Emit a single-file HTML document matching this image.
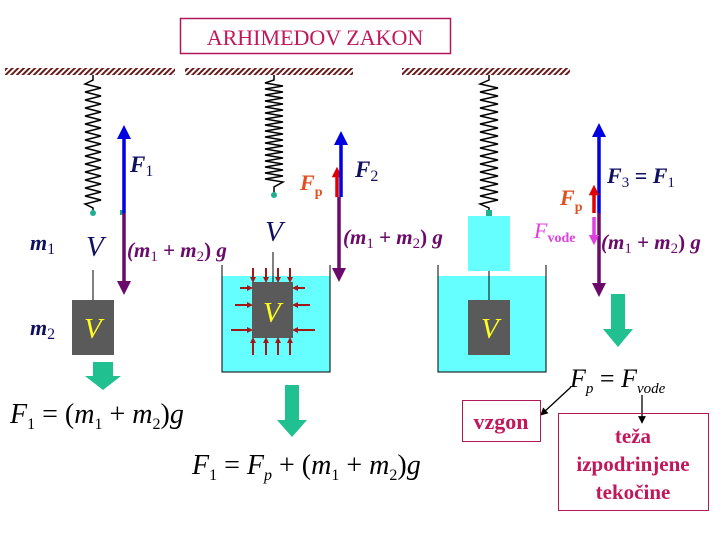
<!DOCTYPE html>
<html><head><meta charset="utf-8"><style>
html,body{margin:0;padding:0;background:#fff;}
svg{display:block;}
.t{font-family:"Liberation Serif",serif;}
</style></head><body>
<svg width="720" height="540" viewBox="0 0 720 540" xmlns="http://www.w3.org/2000/svg">
<defs>
<pattern id="h" width="4" height="4" patternUnits="userSpaceOnUse" patternTransform="rotate(45)">
<rect width="4" height="4" fill="#fff"/><rect width="2" height="4" fill="#6a1a1a"/></pattern>
<marker id="ab" markerWidth="4" markerHeight="4" refX="2" refY="2" orient="auto"><path d="M0,0L4,2L0,4z" fill="#0000e0"/></marker>
<marker id="ap" markerWidth="4" markerHeight="4" refX="2" refY="2" orient="auto"><path d="M0,0L4,2L0,4z" fill="#6a0a6a"/></marker>
<marker id="ar" markerWidth="3" markerHeight="3" refX="1.5" refY="1.5" orient="auto"><path d="M0,0L3,1.5L0,3z" fill="#e00000"/></marker>
<marker id="am" markerWidth="3" markerHeight="3" refX="1.5" refY="1.5" orient="auto"><path d="M0,0L3,1.5L0,3z" fill="#e040e0"/></marker>
<marker id="ad" markerWidth="3" markerHeight="3" refX="1.5" refY="1.5" orient="auto"><path d="M0,0L3,1.5L0,3z" fill="#a01818"/></marker>
<marker id="ak" markerWidth="6" markerHeight="6" refX="3" refY="3" orient="auto"><path d="M0,0L6,3L0,6z" fill="#000"/></marker>
</defs>

<rect x="180.5" y="18.5" width="270" height="35" fill="#fff" stroke="#b0185a" stroke-width="1.5"/>
<text x="315" y="45" class="t" font-size="22" fill="#c0185a" text-anchor="middle">ARHIMEDOV ZAKON</text>

<rect x="5" y="68" width="170" height="7" fill="url(#h)"/>
<rect x="185" y="68" width="168" height="7" fill="url(#h)"/>
<rect x="402" y="68" width="168" height="7" fill="url(#h)"/>

<g fill="none" stroke="#000" stroke-width="1.5">
<polyline points="93,75 93,80 85,84 101,88 85,92 101,96 85,100 101,104 85,108 101,112 85,116 101,120 85,124 101,128 85,132 101,136 85,140 101,144 85,148 101,152 85,156 101,160 85,164 101,168 85,172 101,176 85,180 101,184 85,188 101,192 85,196 101,200 85,204 93,208 93,213"/>
<polyline points="274,75 274,80 265,83 283,86 265,89 283,92 265,95 283,98 265,101 283,104 265,107 283,110 265,113 283,116 265,119 283,122 265,125 283,128 265,131 283,134 265,137 283,140 265,143 283,146 265,149 283,152 265,155 283,158 265,161 283,164 265,167 283,170 265,173 283,176 265,179 283,182 274,187 274,195"/>
<polyline points="489,75 489,80 480,84 498,88 480,92 498,96 480,100 498,104 480,108 498,112 480,116 498,120 480,124 498,128 480,132 498,136 480,140 498,144 480,148 498,152 480,156 498,160 480,164 498,168 480,172 498,176 480,180 498,184 480,188 498,192 480,196 498,200 480,204 489,208 489,213"/>
</g>
<circle cx="93" cy="213" r="3" fill="#20b090"/>
<rect x="120" y="210" width="5" height="5" fill="#20a090"/>
<circle cx="274" cy="195" r="3" fill="#20b090"/>
<rect x="486" y="210" width="6" height="6" fill="#20b090"/>

<text x="30" y="250" class="t" font-size="22" font-style="italic" font-weight="bold" fill="#101060">m<tspan font-size="16" font-style="normal" font-weight="normal" dy="4">1</tspan></text>
<text x="30" y="335" class="t" font-size="22" font-style="italic" font-weight="bold" fill="#101060">m<tspan font-size="16" font-style="normal" font-weight="normal" dy="4">2</tspan></text>
<text x="86" y="256" class="t" font-size="29" font-style="italic" fill="#101060">V</text>
<line x1="93" y1="270" x2="93" y2="300" stroke="#000"/>
<rect x="72" y="300" width="42" height="55" fill="#5a5a5a"/>
<text x="84" y="338" class="t" font-size="29" font-style="italic" fill="#ffff20">V</text>
<line x1="124" y1="213" x2="124" y2="132" stroke="#0000e0" stroke-width="3.5" marker-end="url(#ab)"/>
<line x1="124" y1="213" x2="124" y2="288" stroke="#6a0a6a" stroke-width="3.5" marker-end="url(#ap)"/>
<text x="130" y="172" class="t" font-size="23" font-style="italic" font-weight="bold" fill="#101060">F<tspan font-size="16" font-style="normal" font-weight="normal" dy="4">1</tspan></text>
<text x="127" y="257" class="t" font-size="21" font-style="italic" font-weight="bold" fill="#6a0a6a">(m<tspan font-size="15" font-style="normal" font-weight="normal" dy="4">1</tspan><tspan dy="-4" font-style="normal"> + </tspan>m<tspan font-size="15" font-style="normal" font-weight="normal" dy="4">2</tspan><tspan dy="-4" font-style="normal">) </tspan>g</text>
<path d="M93,362 H113 V376 H121 L103,390 L85,376 H93 Z" fill="#20c090"/>
<text x="10" y="423" class="t" font-size="28" font-style="italic" fill="#000">F<tspan font-size="16" font-style="normal" dy="6">1</tspan><tspan dy="-6" font-style="normal"> = (</tspan>m<tspan font-size="16" font-style="normal" dy="6">1</tspan><tspan dy="-6" font-style="normal"> + </tspan>m<tspan font-size="16" font-style="normal" dy="6">2</tspan><tspan dy="-6" font-style="normal">)</tspan>g</text>

<text x="265" y="241" class="t" font-size="29" font-style="italic" fill="#101060">V</text>
<rect x="222" y="276" width="108" height="96" fill="#66ffff"/>
<polyline points="222,265 222,372 330,372 330,265" fill="none" stroke="#000"/>
<line x1="273" y1="252" x2="273" y2="282" stroke="#000"/>
<rect x="252" y="282" width="41" height="56" fill="#5a5a5a"/>
<text x="263" y="322" class="t" font-size="29" font-style="italic" fill="#ffff20">V</text>
<g stroke="#a01818" stroke-width="2" marker-end="url(#ad)">
<line x1="253" y1="268" x2="253" y2="280"/><line x1="266" y1="268" x2="266" y2="280"/><line x1="278" y1="268" x2="278" y2="280"/><line x1="290" y1="268" x2="290" y2="280"/>
<line x1="253" y1="355" x2="253" y2="340"/><line x1="266" y1="355" x2="266" y2="340"/><line x1="278" y1="355" x2="278" y2="340"/><line x1="290" y1="355" x2="290" y2="340"/>
<line x1="240" y1="288" x2="250" y2="288"/><line x1="235" y1="305" x2="250" y2="305"/><line x1="231" y1="330" x2="250" y2="330"/>
<line x1="305" y1="288" x2="295" y2="288"/><line x1="310" y1="305" x2="295" y2="305"/><line x1="315" y1="330" x2="295" y2="330"/>
</g>
<line x1="337" y1="197" x2="337" y2="172" stroke="#e00000" stroke-width="3.5" marker-end="url(#ar)"/>
<line x1="341" y1="197" x2="341" y2="138" stroke="#0000e0" stroke-width="3.5" marker-end="url(#ab)"/>
<line x1="339" y1="197" x2="339" y2="275" stroke="#6a0a6a" stroke-width="3.5" marker-end="url(#ap)"/>
<text x="300" y="190" class="t" font-size="22" font-style="italic" font-weight="bold" fill="#e05020">F<tspan font-size="14" font-style="normal" dy="6">p</tspan></text>
<text x="355" y="177" class="t" font-size="23" font-style="italic" font-weight="bold" fill="#101060">F<tspan font-size="16" font-style="normal" font-weight="normal" dy="4">2</tspan></text>
<text x="343" y="244" class="t" font-size="21" font-style="italic" font-weight="bold" fill="#6a0a6a">(m<tspan font-size="15" font-style="normal" font-weight="normal" dy="4">1</tspan><tspan dy="-4" font-style="normal"> + </tspan>m<tspan font-size="15" font-style="normal" font-weight="normal" dy="4">2</tspan><tspan dy="-4" font-style="normal">) </tspan>g</text>
<path d="M285,385 H299 V420 H307 L292,437 L277,420 H285 Z" fill="#20c090"/>
<text x="192" y="474" class="t" font-size="28" font-style="italic" fill="#000">F<tspan font-size="16" font-style="normal" dy="6">1</tspan><tspan dy="-6" font-style="normal"> = </tspan>F<tspan font-size="16" dy="6">p</tspan><tspan dy="-6" font-style="normal"> + (</tspan>m<tspan font-size="16" font-style="normal" dy="6">1</tspan><tspan dy="-6" font-style="normal"> + </tspan>m<tspan font-size="16" font-style="normal" dy="6">2</tspan><tspan dy="-6" font-style="normal">)</tspan>g</text>

<rect x="468" y="216" width="42" height="55" fill="#66ffff"/>
<rect x="438" y="276" width="108" height="96" fill="#66ffff"/>
<polyline points="438,265 438,372 546,372 546,265" fill="none" stroke="#000"/>
<line x1="489" y1="271" x2="489" y2="300" stroke="#000"/>
<rect x="468" y="300" width="42" height="55" fill="#5a5a5a"/>
<text x="481" y="338" class="t" font-size="29" font-style="italic" fill="#ffff20">V</text>

<line x1="599" y1="213" x2="599" y2="130" stroke="#0000e0" stroke-width="3.5" marker-end="url(#ab)"/>
<line x1="599" y1="213" x2="599" y2="290" stroke="#6a0a6a" stroke-width="3.5" marker-end="url(#ap)"/>
<line x1="594" y1="213" x2="594" y2="190" stroke="#e00000" stroke-width="3.5" marker-end="url(#ar)"/>
<line x1="594" y1="217" x2="594" y2="240" stroke="#e040e0" stroke-width="3.5" marker-end="url(#am)"/>
<text x="607" y="183" class="t" font-size="22" font-style="italic" font-weight="bold" fill="#101060">F<tspan font-size="15" font-style="normal" font-weight="normal" dy="4">3</tspan><tspan dy="-4" font-style="normal"> = </tspan>F<tspan font-size="15" font-style="normal" font-weight="normal" dy="4">1</tspan></text>
<text x="560" y="205" class="t" font-size="22" font-style="italic" font-weight="bold" fill="#e05020">F<tspan font-size="14" font-style="normal" dy="6">p</tspan></text>
<text x="534" y="238" class="t" font-size="22" font-style="italic" fill="#e040e0">F<tspan font-size="14" font-style="normal" font-weight="bold" dy="4">vode</tspan></text>
<text x="601" y="249" class="t" font-size="21" font-style="italic" font-weight="bold" fill="#6a0a6a">(m<tspan font-size="15" font-style="normal" font-weight="normal" dy="4">1</tspan><tspan dy="-4" font-style="normal"> + </tspan>m<tspan font-size="15" font-style="normal" font-weight="normal" dy="4">2</tspan><tspan dy="-4" font-style="normal">) </tspan>g</text>
<path d="M611,294 H625 V329 H633 L618,347 L603,329 H611 Z" fill="#20c090"/>

<text x="570" y="387" class="t" font-size="26" font-style="italic" fill="#000">F<tspan font-size="15" dy="6">p</tspan><tspan dy="-6" font-style="normal"> = </tspan>F<tspan font-size="15" dy="6">vode</tspan></text>
<line x1="571" y1="387" x2="543" y2="413" stroke="#000" stroke-width="1.3" marker-end="url(#ak)"/>
<line x1="642" y1="395" x2="642" y2="420" stroke="#000" stroke-width="1.3" marker-end="url(#ak)"/>
<rect x="462.5" y="400.5" width="78" height="41" fill="none" stroke="#b0185a"/>
<text x="501" y="429" class="t" font-size="22" font-weight="bold" fill="#c0185a" text-anchor="middle">vzgon</text>
<rect x="558.5" y="413.5" width="150" height="97" fill="none" stroke="#b0185a"/>
<text x="633" y="443" class="t" font-size="21" font-weight="bold" fill="#c0185a" text-anchor="middle">teža</text>
<text x="633" y="471" class="t" font-size="21" font-weight="bold" fill="#c0185a" text-anchor="middle">izpodrinjene</text>
<text x="633" y="499" class="t" font-size="21" font-weight="bold" fill="#c0185a" text-anchor="middle">tekočine</text>
</svg>
</body></html>
